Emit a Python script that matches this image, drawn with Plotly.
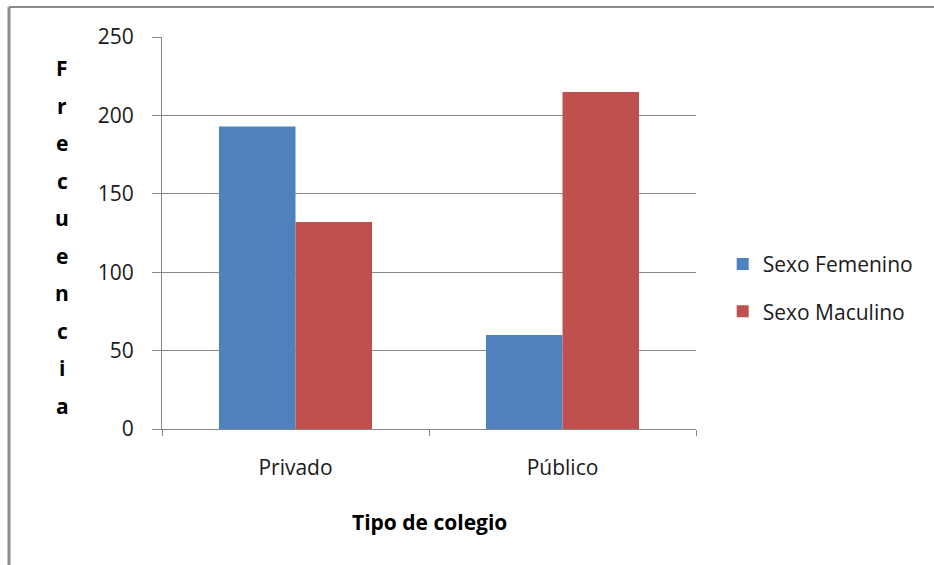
import plotly.graph_objects as go

# Data
categories = ["Privado", "Público"]
femenino = [193, 60]
masculino = [132, 215]
series_names = ["Sexo Femenino", "Sexo Maculino"]
y_title = "Frecuencia"
x_title = "Tipo de colegio"

W, H = 934, 565
ml, mr, mt, mb = 162, 238, 37, 136
pw, ph = W - ml - mr, H - mt - mb

FONT = "Open Sans"
GRID = "#868686"

fig = go.Figure()
fig.add_bar(x=categories, y=femenino, name=series_names[0],
            marker_color="#4F81BD", marker_line_width=0,
            legendgroup="f")
fig.add_bar(x=categories, y=masculino, name=series_names[1],
            marker_color="#C0504D", marker_line_width=0,
            legendgroup="m")

fig.update_layout(
    width=W, height=H,
    margin=dict(l=ml, r=mr, t=mt, b=mb),
    paper_bgcolor="white", plot_bgcolor="white",
    font=dict(family=FONT, size=21, color="#1a1a1a"),
    barmode="group", bargap=0.427, bargroupgap=0,
    showlegend=True,
    legend=dict(x=1.05, xanchor="left", y=0.36, yanchor="middle",
                font=dict(size=21), tracegroupgap=17,
                traceorder="grouped", bgcolor="rgba(0,0,0,0)"),
)

fig.update_xaxes(
    showline=True, linecolor=GRID, linewidth=1,
    ticks="outside", tickson="boundaries", ticklen=6, tickcolor=GRID,
    showgrid=False, ticklabelstandoff=20,
    tickfont=dict(size=21),
)
fig.update_yaxes(
    range=[0, 250], dtick=50, showgrid=True, gridcolor=GRID, gridwidth=1,
    showline=True, linecolor=GRID, linewidth=1,
    ticks="outside", ticklen=9, tickcolor=GRID,
    zeroline=False, ticklabelstandoff=14,
    tickfont=dict(size=21),
)

# Vertical, letter-stacked y-axis title
letters = list(y_title)
top_px, step_px = 68, 37.5
for i, ch in enumerate(letters):
    ypx = top_px + i * step_px
    fig.add_annotation(
        text=f"<b>{ch}</b>", xref="paper", yref="paper",
        x=(62 - ml) / pw, y=(mt + ph - ypx) / ph,
        xanchor="center", yanchor="middle", showarrow=False,
        font=dict(size=21, family=FONT, color="#000"),
    )

# X-axis title
fig.add_annotation(
    text=f"<b>{x_title}</b>", xref="paper", yref="paper",
    x=(429 - ml) / pw, y=(mt + ph - 522) / ph,
    xanchor="center", yanchor="middle", showarrow=False,
    font=dict(size=21, family=FONT, color="#000"),
)

# Chart frame (top and left edges)
top_y = (mt + ph - 7) / ph
left_x = (9 - ml) / pw
fig.add_shape(type="line", xref="paper", yref="paper",
              x0=left_x, x1=(W - ml) / pw, y0=top_y, y1=top_y,
              line=dict(color="#8a8a8a", width=2))
fig.add_shape(type="line", xref="paper", yref="paper",
              x0=left_x, x1=left_x, y0=top_y, y1=(mt + ph - H) / ph,
              line=dict(color="#8a8a8a", width=3))

fig.write_html("out.html")
